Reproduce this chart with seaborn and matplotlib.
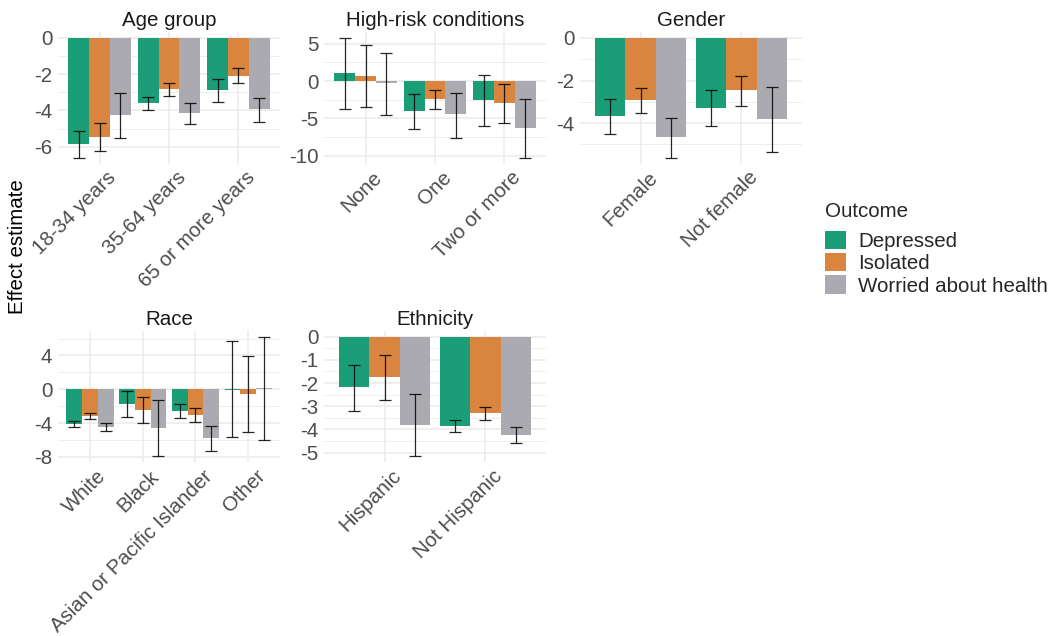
import numpy as np
import pandas as pd
import matplotlib
matplotlib.use("Agg")
import matplotlib.pyplot as plt
import matplotlib.transforms as mtransforms
from matplotlib.patches import Patch
import seaborn as sns

# ---------------- data ----------------
outcomes = ["Depressed", "Isolated", "Worried about health"]
colors = ["#1B9E77", "#D9843F", "#ABAAB0"]

age_cats = ["18-34 years", "35-64 years", "65 or more years"]
age_est = [[-5.86, -3.59, -2.87], [-5.45, -2.84, -2.10], [-4.27, -4.16, -3.94]]
age_lo = [[-6.60, -3.98, -3.55], [-6.24, -3.22, -2.50], [-5.52, -4.77, -4.66]]
age_hi = [[-5.12, -3.24, -2.27], [-4.71, -2.47, -1.67], [-3.06, -3.59, -3.33]]
age_ticks = [0, -2, -4, -6]

hrc_cats = ["None", "One", "Two or more"]
hrc_est = [[1.03, -4.09, -2.53], [0.67, -2.44, -2.89], [-0.31, -4.49, -6.31]]
hrc_lo = [[-3.73, -6.49, -6.09], [-3.42, -3.82, -5.64], [-4.58, -7.60, -10.27]]
hrc_hi = [[5.78, -1.73, 0.84], [4.89, -1.24, -0.36], [3.82, -1.56, -2.44]]
hrc_ticks = [5, 0, -5, -10]

gen_cats = ["Female", "Not female"]
gen_est = [[-3.69, -3.30], [-2.91, -2.46], [-4.67, -3.81]]
gen_lo = [[-4.51, -4.16], [-3.53, -3.18], [-5.62, -5.37]]
gen_hi = [[-2.88, -2.46], [-2.34, -1.79], [-3.78, -2.30]]
gen_ticks = [0, -2, -4]

race_cats = ["White", "Black", "Asian or Pacific Islander", "Other"]
race_est = [[-4.06, -1.69, -2.52, -0.05], [-3.11, -2.40, -2.99, -0.51], [-4.45, -4.53, -5.75, 0.12]]
race_lo = [[-4.50, -3.23, -3.43, -5.59], [-3.54, -4.02, -3.90, -5.04], [-4.96, -7.92, -7.28, -5.98]]
race_hi = [[-3.70, -0.24, -1.77, 5.75], [-2.76, -0.87, -2.17, 3.90], [-3.94, -1.22, -4.37, 6.22]]
race_ticks = [4, 0, -4, -8]

eth_cats = ["Hispanic", "Not Hispanic"]
eth_est = [[-2.18, -3.84], [-1.75, -3.30], [-3.81, -4.22]]
eth_lo = [[-3.19, -4.11], [-2.73, -3.59], [-5.16, -4.57]]
eth_hi = [[-1.21, -3.61], [-0.78, -3.03], [-2.49, -3.91]]
eth_ticks = [0, -1, -2, -3, -4, -5]

panels = [
    ("Age group", age_cats, age_est, age_lo, age_hi, age_ticks),
    ("High-risk conditions", hrc_cats, hrc_est, hrc_lo, hrc_hi, hrc_ticks),
    ("Gender", gen_cats, gen_est, gen_lo, gen_hi, gen_ticks),
    ("Race", race_cats, race_est, race_lo, race_hi, race_ticks),
    ("Ethnicity", eth_cats, eth_est, eth_lo, eth_hi, eth_ticks),
]

# ---------------- style ----------------
sns.set_theme(style="white")
plt.rcParams["font.family"] = ["Liberation Sans", "DejaVu Sans"]
plt.rcParams["axes.unicode_minus"] = False

W, H = 1051, 636
fig = plt.figure(figsize=(W / 100, H / 100), dpi=100)

# panel rectangles in pixels (x0, y0_top, x1, y1_bottom)
rects = [
    (58, 32, 280, 163.5),
    (324, 32, 546, 163.5),
    (580, 32, 802, 163.5),
    (58, 330.7, 280, 462.3),
    (324, 330.7, 546, 462.3),
]

GRID = "#EBEBEB"
TXT = "#4D4D4D"
FS = 14.8

for (title, cats, est, lo, hi, ticks), (x0, y0, x1, y1) in zip(panels, rects):
    ax = fig.add_axes([x0 / W, 1 - y1 / H, (x1 - x0) / W, (y1 - y0) / H])
    rows = []
    for oi, o in enumerate(outcomes):
        for ci, c in enumerate(cats):
            rows.append((c, o, est[oi][ci], lo[oi][ci], hi[oi][ci]))
    df = pd.DataFrame(rows, columns=["category", "outcome", "estimate", "lo", "hi"])
    sns.barplot(data=df, x="category", y="estimate", hue="outcome",
                order=cats, hue_order=outcomes, palette=colors, width=0.9,
                saturation=1, errorbar=None, legend=False, linewidth=0,
                ax=ax, zorder=2)
    bar_containers = list(ax.containers)
    for oi, cont in enumerate(bar_containers):
        sub = df[df.outcome == outcomes[oi]].set_index("category").loc[cats]
        xs = [b.get_x() + b.get_width() / 2 for b in cont]
        yv = sub["estimate"].values
        ax.errorbar(xs, yv, yerr=[yv - sub["lo"].values, sub["hi"].values - yv],
                    fmt="none", ecolor="black", elinewidth=0.9, capsize=4.0,
                    capthick=0.9, alpha=0.85, zorder=3)
    n = len(cats)
    ax.set_xlim(-0.6, n - 0.4)
    vmin = min(df["lo"].min(), df["estimate"].min(), 0)
    vmax = max(df["hi"].max(), df["estimate"].max(), 0)
    rng = vmax - vmin
    ax.set_ylim(vmin - 0.05 * rng, vmax + 0.05 * rng)
    ax.set_yticks(ticks)
    ax.set_yticklabels([str(t) for t in ticks])
    step = abs(ticks[1] - ticks[0])
    lo_l, hi_l = ax.get_ylim()
    minors = [t - step / 2 for t in ticks] + [max(ticks) + step / 2]
    ax.set_yticks([m for m in minors if lo_l <= m <= hi_l], minor=True)
    ax.grid(which="major", color=GRID, linewidth=1.1, zorder=0)
    ax.grid(which="minor", axis="y", color=GRID, linewidth=0.6, zorder=0)
    ax.set_axisbelow(True)
    for s in ax.spines.values():
        s.set_visible(False)
    ax.tick_params(axis="both", which="both", length=0, labelsize=FS, labelcolor=TXT)
    ax.tick_params(axis="y", pad=4)
    ax.tick_params(axis="x", pad=3)
    ax.set_xlabel("")
    ax.set_ylabel("")
    offset = mtransforms.ScaledTranslation(7 / 100, 0, fig.dpi_scale_trans)
    for lab in ax.get_xticklabels():
        lab.set_rotation(45)
        lab.set_ha("right")
        lab.set_va("top")
        lab.set_rotation_mode("anchor")
        lab.set_transform(lab.get_transform() + offset)
    ax.set_title(title, fontsize=FS, color="#1A1A1A", pad=4)
    ax.set_facecolor("white")

fig.text(18 / W, 1 - 247 / H, "Effect estimate", rotation=90, fontsize=FS,
         color="black", ha="center", va="center")

handles = [Patch(facecolor=c, edgecolor="none", label=o) for c, o in zip(colors, outcomes)]
leg = fig.legend(handles=handles, loc="upper left",
                 bbox_to_anchor=(825 / W, 1 - 202 / H), frameon=False,
                 title="Outcome", fontsize=FS, title_fontsize=FS,
                 handlelength=1.0, handleheight=1.0, handletextpad=0.6,
                 labelspacing=0.1, borderpad=0, borderaxespad=0,
                 alignment="left")
leg._legend_box.sep = 7

fig.savefig("out.png", dpi=100, facecolor="white")
